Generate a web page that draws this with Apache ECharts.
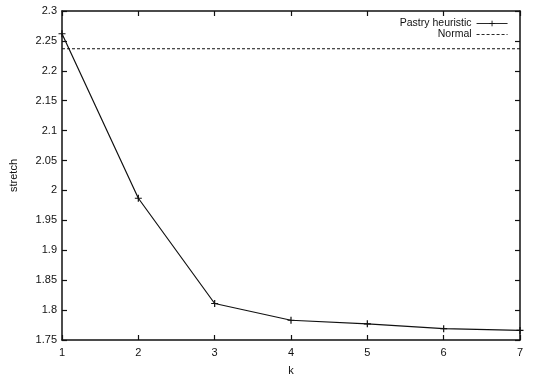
<!DOCTYPE html>
<html>
<head>
<meta charset="utf-8">
<script src="https://cdn.jsdelivr.net/npm/echarts@6/dist/echarts.min.js"></script>
<style>html,body{margin:0;padding:0;background:#fff;}#c{width:534px;height:381px;}</style>
</head>
<body>
<div id="c"></div>
<script>
const kValues = [1, 2, 3, 4, 5, 6, 7];
const pastryHeuristic = [2.262, 1.987, 1.811, 1.783, 1.777, 1.769, 1.766];
const normalValue = 2.237;
const xTicks = [1, 2, 3, 4, 5, 6, 7];
const yTicks = [1.75, 1.8, 1.85, 1.9, 1.95, 2, 2.05, 2.1, 2.15, 2.2, 2.25, 2.3];

const font = 'Liberation Sans, Arial, sans-serif';
const plusPath = 'path://M0,5L10,5M5,0L5,10';
const chart = echarts.init(document.getElementById('c'));
const axisCommon = {
  axisLine: {show: true, onZero: false, lineStyle: {color: '#111', width: 1.5}},
  axisTick: {show: true, inside: true, length: 5, lineStyle: {color: '#111', width: 1.2}},
  splitLine: {show: false}
};
chart.setOption({
  animation: false,
  backgroundColor: '#fff',
  grid: {left: 57, right: 14, top: 11, bottom: 34, containLabel: false},
  legend: {
    orient: 'vertical', right: 26, top: 18, align: 'right',
    itemWidth: 31, itemHeight: 7, itemGap: 0, padding: 0,
    lineStyle: {width: 0.9},
    textStyle: {fontFamily: font, fontSize: 10.5, lineHeight: 10, color: '#111', padding: [0, 0, 0, 0]},
    data: [
      {name: 'Pastry heuristic', itemStyle: {borderWidth: 0.9}},
      {name: 'Normal', itemStyle: {opacity: 0}}
    ]
  },
  xAxis: [
    Object.assign({}, axisCommon, {
      type: 'value', min: xTicks[0], max: xTicks[xTicks.length - 1], interval: 1,
      name: 'k', nameLocation: 'middle', nameGap: 25,
      nameTextStyle: {fontFamily: font, fontSize: 11, color: '#111'},
      axisLabel: {fontFamily: font, fontSize: 11, color: '#111', margin: 7}
    }),
    Object.assign({}, axisCommon, {
      type: 'value', position: 'top', min: xTicks[0], max: xTicks[xTicks.length - 1], interval: 1,
      axisLabel: {show: false}
    })
  ],
  yAxis: [
    Object.assign({}, axisCommon, {
      type: 'value', min: yTicks[0], max: yTicks[yTicks.length - 1], interval: 0.05,
      name: 'stretch', nameLocation: 'middle', nameGap: 43, nameRotate: 90,
      nameTextStyle: {fontFamily: font, fontSize: 11, color: '#111'},
      axisLabel: {fontFamily: font, fontSize: 11, color: '#111', margin: 5,
        formatter: v => String(parseFloat(v.toFixed(2)))}
    }),
    Object.assign({}, axisCommon, {
      type: 'value', position: 'right', min: yTicks[0], max: yTicks[yTicks.length - 1], interval: 0.05,
      axisLabel: {show: false}
    })
  ],
  series: [
    {
      name: 'Pastry heuristic', type: 'line',
      data: kValues.map((k, i) => [k, pastryHeuristic[i]]),
      symbol: plusPath, symbolSize: 7, showSymbol: true,
      lineStyle: {color: '#111', width: 1.2},
      itemStyle: {color: '#111', borderColor: '#111', borderWidth: 1.2}
    },
    {
      name: 'Normal', type: 'line',
      data: [[kValues[0], normalValue], [kValues[kValues.length - 1], normalValue]],
      symbol: 'none',
      lineStyle: {color: '#111', width: 1.1, type: [3, 2]},
      itemStyle: {color: '#111'}
    }
  ]
});
</script>
</body>
</html>
